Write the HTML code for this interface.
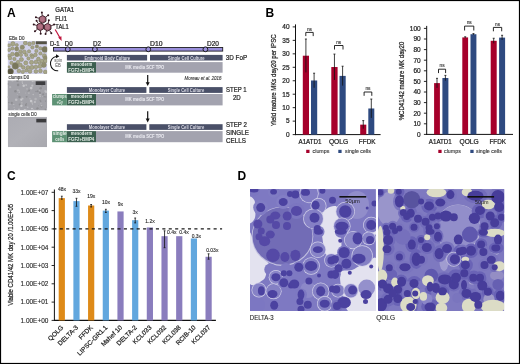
<!DOCTYPE html>
<html><head><meta charset="utf-8"><style>
html,body{margin:0;padding:0;background:#fff;}
#w{position:relative;width:520px;height:364px;overflow:hidden;background:#fff;}
svg{display:block;will-change:transform;}
svg text{font-family:"Liberation Sans", sans-serif;}
svg text.k{stroke:#222;stroke-width:0.22px;}
svg text.k2{stroke:#333;stroke-width:0.12px;}
</style></head><body><div id="w">
<svg width="520" height="364" viewBox="0 0 520 364">
<rect x="0" y="0" width="520" height="364" fill="#fff"/>
<text x="6.9" y="17.1" font-size="12" fill="#000" font-weight="bold">A</text>
<line x1="36.64" y1="25.47" x2="33.72" y2="24.41" stroke="#3a1a24" stroke-width="0.9"/>
<circle cx="33.72" cy="24.41" r="1.0" fill="#2e141c"/>
<line x1="37.31" y1="29.31" x2="34.94" y2="31.30" stroke="#3a1a24" stroke-width="0.9"/>
<circle cx="34.94" cy="31.30" r="1.0" fill="#2e141c"/>
<line x1="40.50" y1="30.69" x2="40.67" y2="33.79" stroke="#3a1a24" stroke-width="0.9"/>
<circle cx="40.67" cy="33.79" r="1.0" fill="#2e141c"/>
<line x1="38.23" y1="23.49" x2="36.59" y2="20.86" stroke="#3a1a24" stroke-width="0.9"/>
<circle cx="36.59" cy="20.86" r="1.0" fill="#2e141c"/>
<polygon points="43.68,28.75 40.30,30.70 36.92,28.75 36.92,24.85 40.30,22.90 43.68,24.85" fill="#a05e72" stroke="#2e141c" stroke-width="0.9"/>
<circle cx="40.00" cy="26.50" r="2.34" fill="#b07284"/>
<line x1="51.22" y1="25.74" x2="54.09" y2="24.58" stroke="#3a1a24" stroke-width="0.9"/>
<circle cx="54.09" cy="24.58" r="1.0" fill="#2e141c"/>
<line x1="49.67" y1="30.51" x2="51.31" y2="33.14" stroke="#3a1a24" stroke-width="0.9"/>
<circle cx="51.31" cy="33.14" r="1.0" fill="#2e141c"/>
<line x1="46.46" y1="30.93" x2="45.55" y2="33.89" stroke="#3a1a24" stroke-width="0.9"/>
<circle cx="45.55" cy="33.89" r="1.0" fill="#2e141c"/>
<line x1="48.28" y1="23.36" x2="48.82" y2="20.31" stroke="#3a1a24" stroke-width="0.9"/>
<circle cx="48.82" cy="20.31" r="1.0" fill="#2e141c"/>
<polygon points="50.98,29.15 47.60,31.10 44.22,29.15 44.22,25.25 47.60,23.30 50.98,25.25" fill="#a05e72" stroke="#2e141c" stroke-width="0.9"/>
<circle cx="47.30" cy="26.90" r="2.34" fill="#b07284"/>
<line x1="42.19" y1="15.52" x2="41.87" y2="12.44" stroke="#3a1a24" stroke-width="0.9"/>
<circle cx="41.87" cy="12.44" r="1.0" fill="#2e141c"/>
<line x1="38.87" y1="18.26" x2="35.91" y2="17.35" stroke="#3a1a24" stroke-width="0.9"/>
<circle cx="35.91" cy="17.35" r="1.0" fill="#2e141c"/>
<line x1="45.71" y1="17.05" x2="48.19" y2="15.19" stroke="#3a1a24" stroke-width="0.9"/>
<circle cx="48.19" cy="15.19" r="1.0" fill="#2e141c"/>
<polygon points="45.98,21.35 42.60,23.30 39.22,21.35 39.22,17.45 42.60,15.50 45.98,17.45" fill="#a05e72" stroke="#2e141c" stroke-width="0.9"/>
<circle cx="42.30" cy="19.10" r="2.34" fill="#b07284"/>
<text class="k" x="55.3" y="12.4" font-size="6.8" fill="#222" textLength="18.7" lengthAdjust="spacingAndGlyphs">GATA1</text>
<text class="k" x="55.3" y="20.5" font-size="6.8" fill="#222" textLength="11.6" lengthAdjust="spacingAndGlyphs">FLI1</text>
<text class="k" x="55.3" y="28.5" font-size="6.8" fill="#222" textLength="13.4" lengthAdjust="spacingAndGlyphs">TAL1</text>
<line x1="55.20" y1="29.50" x2="60.20" y2="38.30" stroke="#c0143c" stroke-width="1.2"/>
<polygon points="61.6,41 58.2,37.6 61.4,36.2" fill="#c0143c"/>
<defs><clipPath id="t1"><rect x="7.6" y="40.9" width="39.7" height="33.1"/></clipPath><clipPath id="t2"><rect x="7.5" y="80.2" width="39.7" height="30.3"/></clipPath><clipPath id="t3"><rect x="7.8" y="116.8" width="39.2" height="30.4"/></clipPath><filter id="tb" x="0" y="0" width="1" height="1"><feGaussianBlur stdDeviation="0.45"/></filter></defs>
<g clip-path="url(#t1)"><g filter="url(#tb)">
<rect x="7.6" y="40.9" width="39.7" height="33.1" fill="#d2d2ea"/>
<circle cx="12.9" cy="43.7" r="2.20" fill="#a6a588" stroke="#868466" stroke-width="0.5"/>
<circle cx="16.9" cy="45" r="1.50" fill="#a6a588" stroke="#868466" stroke-width="0.5"/>
<circle cx="9" cy="45.4" r="1.70" fill="#a6a588" stroke="#868466" stroke-width="0.5"/>
<circle cx="22.3" cy="47.2" r="2.20" fill="#908e70" stroke="#868466" stroke-width="0.5"/>
<circle cx="25.3" cy="43" r="2.00" fill="#a6a588" stroke="#868466" stroke-width="0.5"/>
<circle cx="12.4" cy="48.4" r="1.70" fill="#a6a588" stroke="#868466" stroke-width="0.5"/>
<circle cx="16.7" cy="48.9" r="2.10" fill="#908e70" stroke="#868466" stroke-width="0.5"/>
<circle cx="9" cy="49.9" r="1.70" fill="#a6a588" stroke="#868466" stroke-width="0.5"/>
<circle cx="20.4" cy="51.4" r="1.70" fill="#a6a588" stroke="#868466" stroke-width="0.5"/>
<circle cx="24.3" cy="51.9" r="2.00" fill="#a6a588" stroke="#868466" stroke-width="0.5"/>
<circle cx="12.4" cy="54.1" r="1.90" fill="#a6a588" stroke="#868466" stroke-width="0.5"/>
<circle cx="16.9" cy="54.4" r="2.30" fill="#908e70" stroke="#868466" stroke-width="0.5"/>
<circle cx="9" cy="55.8" r="1.70" fill="#a6a588" stroke="#868466" stroke-width="0.5"/>
<circle cx="20.9" cy="54.9" r="1.70" fill="#a6a588" stroke="#868466" stroke-width="0.5"/>
<circle cx="26.3" cy="54.9" r="1.70" fill="#a6a588" stroke="#868466" stroke-width="0.5"/>
<circle cx="29.5" cy="44" r="1.90" fill="#a6a588" stroke="#868466" stroke-width="0.5"/>
<circle cx="33.4" cy="43" r="1.70" fill="#a6a588" stroke="#868466" stroke-width="0.5"/>
<circle cx="29" cy="51.4" r="1.70" fill="#a6a588" stroke="#868466" stroke-width="0.5"/>
<circle cx="32.4" cy="47.4" r="1.70" fill="#a6a588" stroke="#868466" stroke-width="0.5"/>
<circle cx="36.9" cy="46.4" r="1.70" fill="#908e70" stroke="#868466" stroke-width="0.5"/>
<circle cx="40.4" cy="48.4" r="1.70" fill="#a6a588" stroke="#868466" stroke-width="0.5"/>
<circle cx="44.8" cy="49.4" r="2.90" fill="#79775c" stroke="#868466" stroke-width="0.5"/>
<circle cx="36.4" cy="50.9" r="1.70" fill="#a6a588" stroke="#868466" stroke-width="0.5"/>
<circle cx="40.4" cy="53.4" r="1.70" fill="#a6a588" stroke="#868466" stroke-width="0.5"/>
<circle cx="35.4" cy="54.9" r="1.90" fill="#a6a588" stroke="#868466" stroke-width="0.5"/>
<circle cx="31.5" cy="55.3" r="1.70" fill="#a6a588" stroke="#868466" stroke-width="0.5"/>
<circle cx="44.3" cy="55.8" r="2.10" fill="#a6a588" stroke="#868466" stroke-width="0.5"/>
<circle cx="15.4" cy="65.9" r="3.30" fill="#79775c" stroke="#868466" stroke-width="0.5"/>
<circle cx="10.5" cy="71.4" r="3.00" fill="#5a5742" stroke="#868466" stroke-width="0.5"/>
<circle cx="10" cy="58" r="1.90" fill="#a6a588" stroke="#868466" stroke-width="0.5"/>
<circle cx="14.4" cy="59" r="1.70" fill="#a6a588" stroke="#868466" stroke-width="0.5"/>
<circle cx="21.4" cy="59.5" r="2.10" fill="#a6a588" stroke="#868466" stroke-width="0.5"/>
<circle cx="11.5" cy="62.9" r="1.70" fill="#a6a588" stroke="#868466" stroke-width="0.5"/>
<circle cx="17.9" cy="62" r="1.70" fill="#a6a588" stroke="#868466" stroke-width="0.5"/>
<circle cx="20.4" cy="64.9" r="1.90" fill="#a6a588" stroke="#868466" stroke-width="0.5"/>
<circle cx="25.8" cy="62.9" r="2.10" fill="#a6a588" stroke="#868466" stroke-width="0.5"/>
<circle cx="23.3" cy="67.4" r="1.90" fill="#a6a588" stroke="#868466" stroke-width="0.5"/>
<circle cx="18.9" cy="70.9" r="1.90" fill="#a6a588" stroke="#868466" stroke-width="0.5"/>
<circle cx="22.8" cy="71.9" r="1.70" fill="#a6a588" stroke="#868466" stroke-width="0.5"/>
<circle cx="26.3" cy="70.4" r="1.70" fill="#a6a588" stroke="#868466" stroke-width="0.5"/>
<circle cx="9" cy="66.9" r="1.20" fill="#a6a588" stroke="#868466" stroke-width="0.5"/>
<circle cx="28.5" cy="58.5" r="1.70" fill="#a6a588" stroke="#868466" stroke-width="0.5"/>
<circle cx="32.4" cy="57" r="1.70" fill="#a6a588" stroke="#868466" stroke-width="0.5"/>
<circle cx="38.4" cy="59" r="1.90" fill="#a6a588" stroke="#868466" stroke-width="0.5"/>
<circle cx="45.3" cy="58" r="2.10" fill="#908e70" stroke="#868466" stroke-width="0.5"/>
<circle cx="31.5" cy="62.4" r="2.10" fill="#a6a588" stroke="#868466" stroke-width="0.5"/>
<circle cx="35.9" cy="62" r="1.90" fill="#a6a588" stroke="#868466" stroke-width="0.5"/>
<circle cx="41.9" cy="61" r="1.90" fill="#a6a588" stroke="#868466" stroke-width="0.5"/>
<circle cx="45.3" cy="61" r="1.90" fill="#a6a588" stroke="#868466" stroke-width="0.5"/>
<circle cx="43.8" cy="64.9" r="2.50" fill="#908e70" stroke="#868466" stroke-width="0.5"/>
<circle cx="28" cy="67.4" r="1.90" fill="#a6a588" stroke="#868466" stroke-width="0.5"/>
<circle cx="32" cy="67.4" r="2.10" fill="#a6a588" stroke="#868466" stroke-width="0.5"/>
<circle cx="35.9" cy="66.9" r="1.90" fill="#a6a588" stroke="#868466" stroke-width="0.5"/>
<circle cx="39.9" cy="66.4" r="1.90" fill="#a6a588" stroke="#868466" stroke-width="0.5"/>
<circle cx="30" cy="71.4" r="1.90" fill="#a6a588" stroke="#868466" stroke-width="0.5"/>
<circle cx="35.9" cy="71.4" r="1.90" fill="#a6a588" stroke="#868466" stroke-width="0.5"/>
<circle cx="40.4" cy="70.9" r="1.90" fill="#a6a588" stroke="#868466" stroke-width="0.5"/>
<circle cx="45.3" cy="71.9" r="1.90" fill="#a6a588" stroke="#868466" stroke-width="0.5"/>
<circle cx="39.4" cy="63" r="1.50" fill="#a6a588" stroke="#868466" stroke-width="0.5"/>
<rect x="35.9" y="41.3" width="10.9" height="2.9" fill="#545244"/>
</g></g>
<g clip-path="url(#t2)"><g filter="url(#tb)">
<rect x="7.5" y="80.2" width="39.7" height="30.3" fill="#a2a2a8"/>
<circle cx="32.2" cy="102.7" r="1.1" fill="#b4b4b8"/>
<circle cx="40.9" cy="103.7" r="0.6" fill="#b4b4b8"/>
<circle cx="43.3" cy="83.6" r="0.8" fill="#bebec2"/>
<circle cx="22.6" cy="83.3" r="0.6" fill="#bebec2"/>
<circle cx="23.7" cy="85.7" r="1.2" fill="#c8c8cc"/>
<circle cx="13.8" cy="104.4" r="0.5" fill="#c8c8cc"/>
<circle cx="12.5" cy="80.3" r="1.2" fill="#bebec2"/>
<circle cx="38.2" cy="109.3" r="0.5" fill="#bebec2"/>
<circle cx="19.0" cy="109.3" r="0.9" fill="#bebec2"/>
<circle cx="14.7" cy="109.5" r="0.6" fill="#c8c8cc"/>
<circle cx="19.4" cy="91.1" r="0.5" fill="#bebec2"/>
<circle cx="18.0" cy="90.3" r="1.1" fill="#b4b4b8"/>
<circle cx="31.2" cy="101.6" r="0.5" fill="#8e8e92"/>
<circle cx="40.0" cy="94.8" r="0.7" fill="#c8c8cc"/>
<circle cx="26.3" cy="85.5" r="0.6" fill="#b4b4b8"/>
<circle cx="45.2" cy="91.0" r="0.8" fill="#c8c8cc"/>
<circle cx="22.0" cy="97.7" r="0.4" fill="#b4b4b8"/>
<circle cx="35.6" cy="99.1" r="1.3" fill="#b4b4b8"/>
<circle cx="37.5" cy="108.4" r="1.2" fill="#8e8e92"/>
<circle cx="27.8" cy="107.2" r="0.6" fill="#c8c8cc"/>
<circle cx="11.8" cy="102.9" r="1.1" fill="#8e8e92"/>
<circle cx="9.0" cy="108.9" r="0.5" fill="#8e8e92"/>
<circle cx="27.9" cy="91.2" r="0.5" fill="#8e8e92"/>
<circle cx="44.2" cy="96.7" r="0.7" fill="#8e8e92"/>
<circle cx="19.7" cy="104.4" r="1.0" fill="#8e8e92"/>
<circle cx="47.1" cy="85.1" r="0.4" fill="#c8c8cc"/>
<circle cx="8.8" cy="102.6" r="0.7" fill="#8e8e92"/>
<circle cx="25.6" cy="93.0" r="0.5" fill="#b4b4b8"/>
<circle cx="39.3" cy="90.3" r="0.6" fill="#bebec2"/>
<circle cx="32.5" cy="104.1" r="0.5" fill="#c8c8cc"/>
<circle cx="22.3" cy="82.0" r="0.8" fill="#bebec2"/>
<circle cx="25.5" cy="110.5" r="1.2" fill="#c8c8cc"/>
<circle cx="45.6" cy="101.1" r="0.7" fill="#8e8e92"/>
<circle cx="19.1" cy="92.4" r="0.5" fill="#c8c8cc"/>
<circle cx="40.1" cy="96.3" r="0.6" fill="#c8c8cc"/>
<circle cx="42.0" cy="85.7" r="0.8" fill="#8e8e92"/>
<circle cx="10.0" cy="104.3" r="0.7" fill="#b4b4b8"/>
<circle cx="37.7" cy="91.2" r="1.0" fill="#8e8e92"/>
<circle cx="40.7" cy="88.2" r="1.3" fill="#8e8e92"/>
<circle cx="45.5" cy="90.5" r="0.6" fill="#b4b4b8"/>
<circle cx="26.3" cy="103.6" r="0.7" fill="#8e8e92"/>
<circle cx="25.9" cy="104.9" r="1.0" fill="#8e8e92"/>
<circle cx="21.3" cy="99.7" r="1.1" fill="#c8c8cc"/>
<circle cx="21.4" cy="105.7" r="1.2" fill="#c8c8cc"/>
<circle cx="46.3" cy="109.2" r="0.9" fill="#bebec2"/>
<circle cx="15.4" cy="91.2" r="1.2" fill="#8e8e92"/>
<circle cx="34.9" cy="102.0" r="1.1" fill="#bebec2"/>
<circle cx="32.0" cy="108.6" r="0.9" fill="#c8c8cc"/>
<circle cx="19.5" cy="97.0" r="1.2" fill="#8e8e92"/>
<circle cx="36.1" cy="81.0" r="0.5" fill="#c8c8cc"/>
<circle cx="32.3" cy="85.7" r="1.1" fill="#bebec2"/>
<circle cx="32.5" cy="81.5" r="0.8" fill="#bebec2"/>
<circle cx="14.1" cy="107.2" r="0.5" fill="#bebec2"/>
<circle cx="26.7" cy="96.8" r="0.8" fill="#8e8e92"/>
<circle cx="22.6" cy="98.7" r="0.9" fill="#bebec2"/>
<circle cx="36.0" cy="91.5" r="0.7" fill="#8e8e92"/>
<circle cx="41.5" cy="106.5" r="1.0" fill="#8e8e92"/>
<circle cx="45.8" cy="96.9" r="0.7" fill="#8e8e92"/>
<circle cx="29.1" cy="90.5" r="0.9" fill="#8e8e92"/>
<circle cx="40.0" cy="92.9" r="1.1" fill="#8e8e92"/>
<circle cx="26.1" cy="85.0" r="0.7" fill="#c8c8cc"/>
<circle cx="45.5" cy="109.5" r="0.9" fill="#8e8e92"/>
<circle cx="40.1" cy="100.2" r="0.7" fill="#8e8e92"/>
<circle cx="30.0" cy="98.8" r="0.5" fill="#c8c8cc"/>
<circle cx="24.5" cy="109.8" r="0.8" fill="#c8c8cc"/>
<circle cx="46.1" cy="91.7" r="1.3" fill="#bebec2"/>
<circle cx="31.2" cy="88.1" r="1.3" fill="#c8c8cc"/>
<circle cx="17.5" cy="80.8" r="1.3" fill="#8e8e92"/>
<circle cx="27.0" cy="88.9" r="0.8" fill="#b4b4b8"/>
<circle cx="33.7" cy="109.3" r="0.6" fill="#b4b4b8"/>
<circle cx="38.5" cy="105.3" r="0.4" fill="#8e8e92"/>
<circle cx="17.2" cy="94.6" r="0.4" fill="#c8c8cc"/>
<circle cx="18.1" cy="84.9" r="1.3" fill="#8e8e92"/>
<circle cx="27.0" cy="110.3" r="0.9" fill="#b4b4b8"/>
<circle cx="8.1" cy="84.0" r="0.7" fill="#8e8e92"/>
<circle cx="31.9" cy="102.4" r="0.4" fill="#8e8e92"/>
<circle cx="21.8" cy="102.8" r="0.9" fill="#b4b4b8"/>
<circle cx="7.6" cy="97.0" r="1.0" fill="#b4b4b8"/>
<circle cx="42.8" cy="96.7" r="0.4" fill="#c8c8cc"/>
<circle cx="31.1" cy="101.1" r="1.3" fill="#c8c8cc"/>
<circle cx="41.6" cy="105.7" r="0.8" fill="#bebec2"/>
<circle cx="43.2" cy="94.3" r="1.1" fill="#8e8e92"/>
<circle cx="40.7" cy="101.2" r="0.8" fill="#8e8e92"/>
<circle cx="33.2" cy="94.5" r="0.7" fill="#bebec2"/>
<circle cx="26.5" cy="96.8" r="0.8" fill="#8e8e92"/>
<circle cx="28.9" cy="93.1" r="0.9" fill="#b4b4b8"/>
<circle cx="10.2" cy="87.2" r="1.1" fill="#b4b4b8"/>
<circle cx="33.8" cy="81.0" r="1.1" fill="#b4b4b8"/>
<circle cx="47.1" cy="101.4" r="0.4" fill="#b4b4b8"/>
<circle cx="16.2" cy="99.8" r="1.3" fill="#bebec2"/>
<rect x="35.7" y="81.3" width="9.6" height="3.7" fill="#3e3e40"/>
</g></g>
<g clip-path="url(#t3)"><g filter="url(#tb)">
<defs><linearGradient id="sg" x1="0" y1="0" x2="1" y2="1"><stop offset="0" stop-color="#acacb3"/><stop offset="0.5" stop-color="#b1b1b7"/><stop offset="1" stop-color="#a8a8ae"/></linearGradient></defs>
<rect x="7.8" y="116.8" width="39.2" height="30.4" fill="url(#sg)"/>
<rect x="36.3" y="118.8" width="9.9" height="3.6" fill="#3a3a3c"/>
</g></g>
<text class="k2" x="9" y="40.1" font-size="4.6" fill="#333" textLength="15.5" lengthAdjust="spacingAndGlyphs">EBs  D0</text>
<text class="k2" x="8.6" y="79.1" font-size="4.6" fill="#333" textLength="20.5" lengthAdjust="spacingAndGlyphs">clumps  D0</text>
<text class="k2" x="8.6" y="116.4" font-size="4.6" fill="#333" textLength="28" lengthAdjust="spacingAndGlyphs">single cells  D0</text>
<rect x="53.5" y="47.5" width="169.2" height="3.6" fill="#9a8fdc" stroke="#1e1e22" stroke-width="0.9"/>
<circle cx="67.8" cy="49.3" r="2.4" fill="#9a8fdc" stroke="#1a1a1e" stroke-width="1"/>
<circle cx="94.9" cy="49.3" r="2.4" fill="#9a8fdc" stroke="#1a1a1e" stroke-width="1"/>
<circle cx="148.3" cy="49.3" r="2.4" fill="#9a8fdc" stroke="#1a1a1e" stroke-width="1"/>
<circle cx="205.4" cy="49.3" r="2.4" fill="#9a8fdc" stroke="#1a1a1e" stroke-width="1"/>
<text class="k" x="50.0" y="45.6" font-size="6.5" fill="#222" textLength="9.4" lengthAdjust="spacingAndGlyphs">D-1</text>
<text class="k" x="64.8" y="45.6" font-size="6.5" fill="#222" textLength="7.9" lengthAdjust="spacingAndGlyphs">D0</text>
<text class="k" x="92.9" y="45.6" font-size="6.5" fill="#222" textLength="8" lengthAdjust="spacingAndGlyphs">D2</text>
<text class="k" x="150" y="45.6" font-size="6.5" fill="#222" textLength="12.5" lengthAdjust="spacingAndGlyphs">D10</text>
<text class="k" x="207" y="45.6" font-size="6.5" fill="#222" textLength="12" lengthAdjust="spacingAndGlyphs">D20</text>
<rect x="66.90" y="54.90" width="80.20" height="5.60" fill="#4a5068"/>
<rect x="150.00" y="54.90" width="72.60" height="5.60" fill="#4a5068"/>
<text x="107.3" y="59.5" font-size="4.5" fill="#dcdce6" text-anchor="middle" font-weight="bold" textLength="45.6" lengthAdjust="spacingAndGlyphs">Embryoid Body Culture</text>
<text x="186.3" y="59.5" font-size="4.5" fill="#dcdce6" text-anchor="middle" font-weight="bold" textLength="36.5" lengthAdjust="spacingAndGlyphs">Single Cell Culture</text>
<rect x="66.90" y="62.10" width="29.10" height="10.60" fill="#3b5f4f"/>
<rect x="96.00" y="62.10" width="126.60" height="10.60" fill="#a3a3af"/>
<text x="81.5" y="66.4" font-size="4.6" fill="#e4ece6" text-anchor="middle" font-weight="bold" textLength="21.3" lengthAdjust="spacingAndGlyphs">mesoderm</text>
<text x="81.3" y="71.9" font-size="4.8" fill="#e4ece6" text-anchor="middle" font-weight="bold" textLength="25.9" lengthAdjust="spacingAndGlyphs">FGF2+BMP4</text>
<text x="144.8" y="69.10000000000001" font-size="4.8" fill="#ececf2" text-anchor="middle" font-weight="bold" textLength="39.2" lengthAdjust="spacingAndGlyphs">MK media SCF TPO</text>
<rect x="66.90" y="87.10" width="79.50" height="5.80" fill="#4a5068"/>
<rect x="149.30" y="87.10" width="73.30" height="5.80" fill="#4a5068"/>
<text x="106.95" y="91.69999999999999" font-size="4.5" fill="#dcdce6" text-anchor="middle" font-weight="bold" textLength="36.2" lengthAdjust="spacingAndGlyphs">Monolayer Culture</text>
<text x="185.95" y="91.69999999999999" font-size="4.5" fill="#dcdce6" text-anchor="middle" font-weight="bold" textLength="36.5" lengthAdjust="spacingAndGlyphs">Single Cell Culture</text>
<rect x="66.90" y="94.00" width="29.10" height="11.40" fill="#3b5f4f"/>
<rect x="96.00" y="94.00" width="126.60" height="11.40" fill="#a3a3af"/>
<text x="81.5" y="98.3" font-size="4.6" fill="#e4ece6" text-anchor="middle" font-weight="bold" textLength="21.3" lengthAdjust="spacingAndGlyphs">mesoderm</text>
<text x="81.3" y="103.8" font-size="4.8" fill="#e4ece6" text-anchor="middle" font-weight="bold" textLength="25.9" lengthAdjust="spacingAndGlyphs">FGF2+BMP4</text>
<text x="144.8" y="101.4" font-size="4.8" fill="#ececf2" text-anchor="middle" font-weight="bold" textLength="39.2" lengthAdjust="spacingAndGlyphs">MK media SCF TPO</text>
<rect x="52.10" y="94.00" width="14.80" height="11.40" fill="#5e9275"/>
<text x="59.8" y="98.3" font-size="4.6" fill="#e4ece6" text-anchor="middle" font-weight="bold" textLength="13.9" lengthAdjust="spacingAndGlyphs">clumps</text>
<text x="59.8" y="103.8" font-size="4.6" fill="#e4ece6" text-anchor="middle" font-weight="bold" textLength="6.1" lengthAdjust="spacingAndGlyphs">+Gy</text>
<rect x="66.90" y="124.20" width="79.50" height="5.70" fill="#4a5068"/>
<rect x="149.30" y="124.20" width="73.30" height="5.70" fill="#4a5068"/>
<text x="106.95" y="128.8" font-size="4.5" fill="#dcdce6" text-anchor="middle" font-weight="bold" textLength="36.2" lengthAdjust="spacingAndGlyphs">Monolayer Culture</text>
<text x="185.95" y="128.8" font-size="4.5" fill="#dcdce6" text-anchor="middle" font-weight="bold" textLength="36.5" lengthAdjust="spacingAndGlyphs">Single Cell Culture</text>
<rect x="66.90" y="131.10" width="29.10" height="11.10" fill="#3b5f4f"/>
<rect x="96.00" y="131.10" width="126.60" height="11.10" fill="#a3a3af"/>
<text x="81.5" y="135.4" font-size="4.6" fill="#e4ece6" text-anchor="middle" font-weight="bold" textLength="21.3" lengthAdjust="spacingAndGlyphs">mesoderm</text>
<text x="81.3" y="140.9" font-size="4.8" fill="#e4ece6" text-anchor="middle" font-weight="bold" textLength="25.9" lengthAdjust="spacingAndGlyphs">FGF2+BMP4</text>
<text x="144.8" y="138.34999999999997" font-size="4.8" fill="#ececf2" text-anchor="middle" font-weight="bold" textLength="39.2" lengthAdjust="spacingAndGlyphs">MK media SCF TPO</text>
<rect x="52.10" y="131.10" width="14.80" height="11.10" fill="#5e9275"/>
<text x="59.8" y="135.4" font-size="4.6" fill="#e4ece6" text-anchor="middle" font-weight="bold" textLength="13.9" lengthAdjust="spacingAndGlyphs">single</text>
<text x="59.8" y="140.9" font-size="4.6" fill="#e4ece6" text-anchor="middle" font-weight="bold" textLength="9" lengthAdjust="spacingAndGlyphs">cells</text>
<text class="k" x="225.8" y="60.2" font-size="7" fill="#222" textLength="21.3" lengthAdjust="spacingAndGlyphs">3D FoP</text>
<text class="k" x="236.3" y="92" font-size="7" fill="#222" text-anchor="middle" textLength="20.5" lengthAdjust="spacingAndGlyphs">STEP 1</text>
<text class="k" x="236.8" y="99.9" font-size="7" fill="#222" text-anchor="middle" textLength="7.8" lengthAdjust="spacingAndGlyphs">2D</text>
<text class="k" x="226" y="127.4" font-size="7" fill="#222" textLength="20.9" lengthAdjust="spacingAndGlyphs">STEP 2</text>
<text class="k" x="226" y="134.7" font-size="7" fill="#222" textLength="22.8" lengthAdjust="spacingAndGlyphs">SINGLE</text>
<text class="k" x="226" y="142.8" font-size="7" fill="#222" textLength="20" lengthAdjust="spacingAndGlyphs">CELLS</text>
<text class="k2" x="221.4" y="79.6" font-size="5.2" fill="#333" text-anchor="end" font-style="italic" textLength="36.8" lengthAdjust="spacingAndGlyphs">Moreau et al. 2016</text>
<path d="M58.2,70.7 A6.6,7.1 0 0 1 56.2,56.4" fill="none" stroke="#111" stroke-width="1.05"/>
<polygon points="59.4,56.3 56.0,54.3 56.0,58.3" fill="#111"/>
<text x="58.15" y="61.7" font-size="4.7" fill="#4a4a4a" text-anchor="middle" textLength="7.7" lengthAdjust="spacingAndGlyphs">spin</text>
<text x="58.1" y="66.5" font-size="4.7" fill="#4a4a4a" text-anchor="middle" textLength="5.6" lengthAdjust="spacingAndGlyphs">EB</text>
<line x1="147.70" y1="75.00" x2="147.70" y2="83.10" stroke="#111" stroke-width="1.2"/>
<polygon points="145.7,82.3 149.7,82.3 147.7,86.1" fill="#111"/>
<line x1="147.70" y1="111.20" x2="147.70" y2="119.40" stroke="#111" stroke-width="1.2"/>
<polygon points="145.7,118.60000000000001 149.7,118.60000000000001 147.7,122.4" fill="#111"/>
<text x="265.4" y="17.2" font-size="12" fill="#000" font-weight="bold">B</text>
<line x1="295.50" y1="24.40" x2="295.50" y2="135.10" stroke="#111" stroke-width="1"/>
<line x1="295.00" y1="134.60" x2="380.60" y2="134.60" stroke="#111" stroke-width="1"/>
<line x1="292.70" y1="134.60" x2="295.50" y2="134.60" stroke="#111" stroke-width="0.9"/>
<text class="k" x="289.5" y="136.9" font-size="6.5" fill="#222" text-anchor="end">0</text>
<line x1="292.70" y1="121.14" x2="295.50" y2="121.14" stroke="#111" stroke-width="0.9"/>
<text class="k" x="289.5" y="123.43749999999999" font-size="6.5" fill="#222" text-anchor="end">5</text>
<line x1="292.70" y1="107.67" x2="295.50" y2="107.67" stroke="#111" stroke-width="0.9"/>
<text class="k" x="289.5" y="109.975" font-size="6.5" fill="#222" text-anchor="end">10</text>
<line x1="292.70" y1="94.21" x2="295.50" y2="94.21" stroke="#111" stroke-width="0.9"/>
<text class="k" x="289.5" y="96.5125" font-size="6.5" fill="#222" text-anchor="end">15</text>
<line x1="292.70" y1="80.75" x2="295.50" y2="80.75" stroke="#111" stroke-width="0.9"/>
<text class="k" x="289.5" y="83.05" font-size="6.5" fill="#222" text-anchor="end">20</text>
<line x1="292.70" y1="67.29" x2="295.50" y2="67.29" stroke="#111" stroke-width="0.9"/>
<text class="k" x="289.5" y="69.58749999999999" font-size="6.5" fill="#222" text-anchor="end">25</text>
<line x1="292.70" y1="53.83" x2="295.50" y2="53.83" stroke="#111" stroke-width="0.9"/>
<text class="k" x="289.5" y="56.125" font-size="6.5" fill="#222" text-anchor="end">30</text>
<line x1="292.70" y1="40.36" x2="295.50" y2="40.36" stroke="#111" stroke-width="0.9"/>
<text class="k" x="289.5" y="42.662499999999994" font-size="6.5" fill="#222" text-anchor="end">35</text>
<line x1="292.70" y1="26.90" x2="295.50" y2="26.90" stroke="#111" stroke-width="0.9"/>
<text class="k" x="289.5" y="29.200000000000006" font-size="6.5" fill="#222" text-anchor="end">40</text>
<rect x="302.80" y="55.71" width="6.20" height="78.89" fill="#a6002b"/>
<line x1="305.90" y1="39.02" x2="305.90" y2="72.40" stroke="#111" stroke-width="0.8"/>
<line x1="304.90" y1="39.02" x2="306.90" y2="39.02" stroke="#111" stroke-width="0.8"/>
<rect x="311.00" y="80.48" width="6.20" height="54.12" fill="#2e4a80"/>
<line x1="314.10" y1="73.21" x2="314.10" y2="87.75" stroke="#111" stroke-width="0.8"/>
<line x1="313.10" y1="73.21" x2="315.10" y2="73.21" stroke="#111" stroke-width="0.8"/>
<rect x="331.30" y="67.02" width="6.30" height="67.58" fill="#a6002b"/>
<line x1="334.45" y1="54.09" x2="334.45" y2="79.94" stroke="#111" stroke-width="0.8"/>
<line x1="333.45" y1="54.09" x2="335.45" y2="54.09" stroke="#111" stroke-width="0.8"/>
<rect x="339.50" y="75.90" width="6.20" height="58.70" fill="#2e4a80"/>
<line x1="342.60" y1="66.21" x2="342.60" y2="85.60" stroke="#111" stroke-width="0.8"/>
<line x1="341.60" y1="66.21" x2="343.60" y2="66.21" stroke="#111" stroke-width="0.8"/>
<rect x="360.20" y="124.64" width="6.10" height="9.96" fill="#a6002b"/>
<line x1="363.25" y1="120.60" x2="363.25" y2="128.68" stroke="#111" stroke-width="0.8"/>
<line x1="362.25" y1="120.60" x2="364.25" y2="120.60" stroke="#111" stroke-width="0.8"/>
<rect x="368.30" y="108.48" width="6.00" height="26.12" fill="#2e4a80"/>
<line x1="371.30" y1="99.06" x2="371.30" y2="117.91" stroke="#111" stroke-width="0.8"/>
<line x1="370.30" y1="99.06" x2="372.30" y2="99.06" stroke="#111" stroke-width="0.8"/>
<path d="M305.8,36.1 L305.8,32.4 L313.2,32.4 L313.2,36.1" fill="none" stroke="#111" stroke-width="0.9"/>
<text class="k2" x="309.5" y="30.5" font-size="4.8" fill="#333" text-anchor="middle">ns</text>
<path d="M334.5,49.5 L334.5,45.5 L343.0,45.5 L343.0,49.5" fill="none" stroke="#111" stroke-width="0.9"/>
<text class="k2" x="338.75" y="43.6" font-size="4.8" fill="#333" text-anchor="middle">ns</text>
<path d="M364.1,95.8 L364.1,92 L371.8,92 L371.8,95.8" fill="none" stroke="#111" stroke-width="0.9"/>
<text class="k2" x="367.95000000000005" y="90.1" font-size="4.8" fill="#333" text-anchor="middle">ns</text>
<text class="k" x="310" y="143.9" font-size="6.6" fill="#222" text-anchor="middle" textLength="22.9" lengthAdjust="spacingAndGlyphs">A1ATD1</text>
<text class="k" x="338.5" y="143.9" font-size="6.6" fill="#222" text-anchor="middle" textLength="19.2" lengthAdjust="spacingAndGlyphs">QOLG</text>
<text class="k" x="367.2" y="143.9" font-size="6.6" fill="#222" text-anchor="middle" textLength="16.7" lengthAdjust="spacingAndGlyphs">FFDK</text>
<text class="k" transform="translate(275.5,80.35) rotate(-90)" font-size="6.3" text-anchor="middle" fill="#222" textLength="91.8" lengthAdjust="spacingAndGlyphs">Yield mature MKs day20 per iPSC</text>
<rect x="306.20" y="149.80" width="3.30" height="3.20" fill="#a6002b"/>
<text class="k2" x="312.6" y="153.3" font-size="5.2" fill="#3a3a3a" textLength="16.8" lengthAdjust="spacingAndGlyphs">clumps</text>
<rect x="338.30" y="149.80" width="3.30" height="3.20" fill="#2e4a80"/>
<text class="k2" x="345.1" y="153.3" font-size="5.2" fill="#3a3a3a" textLength="25.8" lengthAdjust="spacingAndGlyphs">single cells</text>
<line x1="426.70" y1="25.90" x2="426.70" y2="134.90" stroke="#111" stroke-width="1"/>
<line x1="426.20" y1="134.40" x2="513.00" y2="134.40" stroke="#111" stroke-width="1"/>
<line x1="423.90" y1="134.40" x2="426.70" y2="134.40" stroke="#111" stroke-width="0.9"/>
<text class="k" x="420.7" y="136.70000000000002" font-size="6.5" fill="#222" text-anchor="end">0</text>
<line x1="423.90" y1="123.80" x2="426.70" y2="123.80" stroke="#111" stroke-width="0.9"/>
<text class="k" x="420.7" y="126.10000000000001" font-size="6.5" fill="#222" text-anchor="end">10</text>
<line x1="423.90" y1="113.20" x2="426.70" y2="113.20" stroke="#111" stroke-width="0.9"/>
<text class="k" x="420.7" y="115.5" font-size="6.5" fill="#222" text-anchor="end">20</text>
<line x1="423.90" y1="102.60" x2="426.70" y2="102.60" stroke="#111" stroke-width="0.9"/>
<text class="k" x="420.7" y="104.9" font-size="6.5" fill="#222" text-anchor="end">30</text>
<line x1="423.90" y1="92.00" x2="426.70" y2="92.00" stroke="#111" stroke-width="0.9"/>
<text class="k" x="420.7" y="94.3" font-size="6.5" fill="#222" text-anchor="end">40</text>
<line x1="423.90" y1="81.40" x2="426.70" y2="81.40" stroke="#111" stroke-width="0.9"/>
<text class="k" x="420.7" y="83.7" font-size="6.5" fill="#222" text-anchor="end">50</text>
<line x1="423.90" y1="70.80" x2="426.70" y2="70.80" stroke="#111" stroke-width="0.9"/>
<text class="k" x="420.7" y="73.10000000000001" font-size="6.5" fill="#222" text-anchor="end">60</text>
<line x1="423.90" y1="60.20" x2="426.70" y2="60.20" stroke="#111" stroke-width="0.9"/>
<text class="k" x="420.7" y="62.5" font-size="6.5" fill="#222" text-anchor="end">70</text>
<line x1="423.90" y1="49.60" x2="426.70" y2="49.60" stroke="#111" stroke-width="0.9"/>
<text class="k" x="420.7" y="51.89999999999999" font-size="6.5" fill="#222" text-anchor="end">80</text>
<line x1="423.90" y1="39.00" x2="426.70" y2="39.00" stroke="#111" stroke-width="0.9"/>
<text class="k" x="420.7" y="41.3" font-size="6.5" fill="#222" text-anchor="end">90</text>
<line x1="423.90" y1="28.40" x2="426.70" y2="28.40" stroke="#111" stroke-width="0.9"/>
<text class="k" x="420.7" y="30.700000000000006" font-size="6.5" fill="#222" text-anchor="end">100</text>
<rect x="434.10" y="83.10" width="5.80" height="51.30" fill="#a6002b"/>
<line x1="437.00" y1="78.33" x2="437.00" y2="87.87" stroke="#111" stroke-width="0.8"/>
<line x1="436.00" y1="78.33" x2="438.00" y2="78.33" stroke="#111" stroke-width="0.8"/>
<rect x="442.40" y="78.01" width="6.00" height="56.39" fill="#2e4a80"/>
<line x1="445.40" y1="75.36" x2="445.40" y2="80.66" stroke="#111" stroke-width="0.8"/>
<line x1="444.40" y1="75.36" x2="446.40" y2="75.36" stroke="#111" stroke-width="0.8"/>
<rect x="462.30" y="37.41" width="5.80" height="96.99" fill="#a6002b"/>
<line x1="465.20" y1="36.77" x2="465.20" y2="38.05" stroke="#111" stroke-width="0.8"/>
<line x1="464.20" y1="36.77" x2="466.20" y2="36.77" stroke="#111" stroke-width="0.8"/>
<rect x="470.50" y="34.23" width="5.90" height="100.17" fill="#2e4a80"/>
<line x1="473.45" y1="33.59" x2="473.45" y2="34.87" stroke="#111" stroke-width="0.8"/>
<line x1="472.45" y1="33.59" x2="474.45" y2="33.59" stroke="#111" stroke-width="0.8"/>
<rect x="490.70" y="40.80" width="6.00" height="93.60" fill="#a6002b"/>
<line x1="493.70" y1="38.26" x2="493.70" y2="43.35" stroke="#111" stroke-width="0.8"/>
<line x1="492.70" y1="38.26" x2="494.70" y2="38.26" stroke="#111" stroke-width="0.8"/>
<rect x="499.10" y="37.62" width="6.00" height="96.78" fill="#2e4a80"/>
<line x1="502.10" y1="35.29" x2="502.10" y2="39.95" stroke="#111" stroke-width="0.8"/>
<line x1="501.10" y1="35.29" x2="503.10" y2="35.29" stroke="#111" stroke-width="0.8"/>
<path d="M438.5,73.1 L438.5,69.2 L445.6,69.2 L445.6,73.1" fill="none" stroke="#111" stroke-width="0.9"/>
<text class="k2" x="442.05" y="67.3" font-size="4.8" fill="#333" text-anchor="middle">ns</text>
<path d="M464.6,30.5 L464.6,26.1 L473.8,26.1 L473.8,30.5" fill="none" stroke="#111" stroke-width="0.9"/>
<text class="k2" x="469.20000000000005" y="24.200000000000003" font-size="4.8" fill="#333" text-anchor="middle">ns</text>
<path d="M493.4,31.3 L493.4,27.4 L501.7,27.4 L501.7,31.3" fill="none" stroke="#111" stroke-width="0.9"/>
<text class="k2" x="497.54999999999995" y="25.5" font-size="4.8" fill="#333" text-anchor="middle">ns</text>
<text class="k" x="440.3" y="143.9" font-size="6.6" fill="#222" text-anchor="middle" textLength="22.9" lengthAdjust="spacingAndGlyphs">A1ATD1</text>
<text class="k" x="469.1" y="143.9" font-size="6.6" fill="#222" text-anchor="middle" textLength="19.2" lengthAdjust="spacingAndGlyphs">QOLG</text>
<text class="k" x="497.7" y="143.9" font-size="6.6" fill="#222" text-anchor="middle" textLength="16.5" lengthAdjust="spacingAndGlyphs">FFDK</text>
<text class="k" transform="translate(404,81.0) rotate(-90)" font-size="6.3" text-anchor="middle" fill="#222" textLength="78.5" lengthAdjust="spacingAndGlyphs">%CD41/42 mature MK day20</text>
<rect x="438.30" y="149.80" width="3.30" height="3.20" fill="#a6002b"/>
<text class="k2" x="444" y="153.3" font-size="5.2" fill="#3a3a3a" textLength="16.8" lengthAdjust="spacingAndGlyphs">clumps</text>
<rect x="470.30" y="149.80" width="3.30" height="3.20" fill="#2e4a80"/>
<text class="k2" x="476" y="153.3" font-size="5.2" fill="#3a3a3a" textLength="25.8" lengthAdjust="spacingAndGlyphs">single cells</text>
<text x="7.1" y="180.2" font-size="12" fill="#000" font-weight="bold">C</text>
<line x1="54.40" y1="189.50" x2="54.40" y2="320.90" stroke="#111" stroke-width="1"/>
<line x1="54.00" y1="320.40" x2="215.90" y2="320.40" stroke="#111" stroke-width="1.1"/>
<line x1="51.60" y1="320.40" x2="54.40" y2="320.40" stroke="#111" stroke-width="0.9"/>
<text class="k2" x="48.4" y="322.75" font-size="6.5" fill="#222" text-anchor="end" textLength="27.9" lengthAdjust="spacingAndGlyphs">1.00E+00</text>
<line x1="51.60" y1="302.10" x2="54.40" y2="302.10" stroke="#111" stroke-width="0.9"/>
<text class="k2" x="48.4" y="304.45" font-size="6.5" fill="#222" text-anchor="end" textLength="27.9" lengthAdjust="spacingAndGlyphs">1.00E+01</text>
<line x1="51.60" y1="283.80" x2="54.40" y2="283.80" stroke="#111" stroke-width="0.9"/>
<text class="k2" x="48.4" y="286.15" font-size="6.5" fill="#222" text-anchor="end" textLength="27.9" lengthAdjust="spacingAndGlyphs">1.00E+02</text>
<line x1="51.60" y1="265.50" x2="54.40" y2="265.50" stroke="#111" stroke-width="0.9"/>
<text class="k2" x="48.4" y="267.85" font-size="6.5" fill="#222" text-anchor="end" textLength="27.9" lengthAdjust="spacingAndGlyphs">1.00E+03</text>
<line x1="51.60" y1="247.20" x2="54.40" y2="247.20" stroke="#111" stroke-width="0.9"/>
<text class="k2" x="48.4" y="249.55" font-size="6.5" fill="#222" text-anchor="end" textLength="27.9" lengthAdjust="spacingAndGlyphs">1.00E+04</text>
<line x1="51.60" y1="228.90" x2="54.40" y2="228.90" stroke="#111" stroke-width="0.9"/>
<text class="k2" x="48.4" y="231.25" font-size="6.5" fill="#222" text-anchor="end" textLength="27.9" lengthAdjust="spacingAndGlyphs">1.00E+05</text>
<line x1="51.60" y1="210.60" x2="54.40" y2="210.60" stroke="#111" stroke-width="0.9"/>
<text class="k2" x="48.4" y="212.95" font-size="6.5" fill="#222" text-anchor="end" textLength="27.9" lengthAdjust="spacingAndGlyphs">1.00E+06</text>
<line x1="51.60" y1="192.30" x2="54.40" y2="192.30" stroke="#111" stroke-width="0.9"/>
<text class="k2" x="48.4" y="194.65" font-size="6.5" fill="#222" text-anchor="end" textLength="27.9" lengthAdjust="spacingAndGlyphs">1.00E+07</text>
<rect x="58.70" y="198.13" width="6.20" height="122.27" fill="#de8a18"/>
<line x1="61.80" y1="196.20" x2="61.80" y2="199.20" stroke="#111" stroke-width="0.8"/>
<line x1="60.90" y1="196.20" x2="62.70" y2="196.20" stroke="#111" stroke-width="0.8"/>
<line x1="60.90" y1="199.20" x2="62.70" y2="199.20" stroke="#111" stroke-width="0.8"/>
<text class="k2" x="62" y="190.7" font-size="5.0" fill="#222" text-anchor="middle">48x</text>
<text class="k" transform="translate(63.90,327.90) rotate(-45)" font-size="6.5" text-anchor="end" fill="#222">QOLG</text>
<rect x="73.38" y="201.11" width="6.20" height="119.29" fill="#62a7de"/>
<line x1="76.48" y1="198.30" x2="76.48" y2="206.30" stroke="#111" stroke-width="0.8"/>
<line x1="75.58" y1="198.30" x2="77.38" y2="198.30" stroke="#111" stroke-width="0.8"/>
<line x1="75.58" y1="206.30" x2="77.38" y2="206.30" stroke="#111" stroke-width="0.8"/>
<text class="k2" x="76.6" y="193.2" font-size="5.0" fill="#222" text-anchor="middle">33x</text>
<text class="k" transform="translate(78.58,327.90) rotate(-45)" font-size="6.5" text-anchor="end" fill="#222">DELTA-3</text>
<rect x="88.06" y="205.50" width="6.20" height="114.90" fill="#de8a18"/>
<line x1="91.16" y1="204.50" x2="91.16" y2="207.00" stroke="#111" stroke-width="0.8"/>
<line x1="90.26" y1="204.50" x2="92.06" y2="204.50" stroke="#111" stroke-width="0.8"/>
<line x1="90.26" y1="207.00" x2="92.06" y2="207.00" stroke="#111" stroke-width="0.8"/>
<text class="k2" x="91.2" y="197.8" font-size="5.0" fill="#222" text-anchor="middle">19x</text>
<text class="k" transform="translate(93.26,327.90) rotate(-45)" font-size="6.5" text-anchor="end" fill="#222">FFDK</text>
<rect x="102.74" y="210.60" width="6.20" height="109.80" fill="#62a7de"/>
<line x1="105.84" y1="209.30" x2="105.84" y2="212.50" stroke="#111" stroke-width="0.8"/>
<line x1="104.94" y1="209.30" x2="106.74" y2="209.30" stroke="#111" stroke-width="0.8"/>
<line x1="104.94" y1="212.50" x2="106.74" y2="212.50" stroke="#111" stroke-width="0.8"/>
<text class="k2" x="106.1" y="204.4" font-size="5.0" fill="#222" text-anchor="middle">10x</text>
<text class="k" transform="translate(107.94,327.90) rotate(-45)" font-size="6.5" text-anchor="end" fill="#222">LIPSC-GR1.1</text>
<rect x="117.42" y="211.44" width="6.20" height="108.96" fill="#8a7dbd"/>
<text class="k2" x="120.3" y="206.4" font-size="5.0" fill="#222" text-anchor="middle">9x</text>
<text class="k" transform="translate(122.62,327.90) rotate(-45)" font-size="6.5" text-anchor="end" fill="#222">Mshef 10</text>
<rect x="132.10" y="220.17" width="6.20" height="100.23" fill="#62a7de"/>
<line x1="135.20" y1="218.00" x2="135.20" y2="222.90" stroke="#111" stroke-width="0.8"/>
<line x1="134.30" y1="218.00" x2="136.10" y2="218.00" stroke="#111" stroke-width="0.8"/>
<line x1="134.30" y1="222.90" x2="136.10" y2="222.90" stroke="#111" stroke-width="0.8"/>
<text class="k2" x="135.2" y="213.8" font-size="5.0" fill="#222" text-anchor="middle">3x</text>
<text class="k" transform="translate(137.30,327.90) rotate(-45)" font-size="6.5" text-anchor="end" fill="#222">DELTA-2</text>
<rect x="146.78" y="227.45" width="6.20" height="92.95" fill="#8a7dbd"/>
<text class="k2" x="150" y="222.7" font-size="5.0" fill="#222" text-anchor="middle">1.2x</text>
<text class="k" transform="translate(151.98,327.90) rotate(-45)" font-size="6.5" text-anchor="end" fill="#222">KCL033</text>
<rect x="161.46" y="236.18" width="6.20" height="84.22" fill="#8a7dbd"/>
<line x1="164.56" y1="230.80" x2="164.56" y2="247.70" stroke="#111" stroke-width="0.8"/>
<line x1="163.66" y1="230.80" x2="165.46" y2="230.80" stroke="#111" stroke-width="0.8"/>
<line x1="163.66" y1="247.70" x2="165.46" y2="247.70" stroke="#111" stroke-width="0.8"/>
<text class="k2" x="171.7" y="234" font-size="5.0" fill="#222" text-anchor="middle">0.4x</text>
<text class="k" transform="translate(166.66,327.90) rotate(-45)" font-size="6.5" text-anchor="end" fill="#222">KCL032</text>
<rect x="176.14" y="236.18" width="6.20" height="84.22" fill="#8a7dbd"/>
<text class="k2" x="184" y="234" font-size="5.0" fill="#222" text-anchor="middle">0.4x</text>
<text class="k" transform="translate(181.34,327.90) rotate(-45)" font-size="6.5" text-anchor="end" fill="#222">KCL038</text>
<rect x="190.82" y="238.47" width="6.20" height="81.93" fill="#62a7de"/>
<text class="k2" x="196.4" y="237.5" font-size="5.0" fill="#222" text-anchor="middle">0.3x</text>
<text class="k" transform="translate(196.02,327.90) rotate(-45)" font-size="6.5" text-anchor="end" fill="#222">RCIB-10</text>
<rect x="205.50" y="256.77" width="6.20" height="63.63" fill="#8a7dbd"/>
<line x1="208.60" y1="253.80" x2="208.60" y2="259.20" stroke="#111" stroke-width="0.8"/>
<line x1="207.70" y1="253.80" x2="209.50" y2="253.80" stroke="#111" stroke-width="0.8"/>
<line x1="207.70" y1="259.20" x2="209.50" y2="259.20" stroke="#111" stroke-width="0.8"/>
<text class="k2" x="212.3" y="252" font-size="5.0" fill="#222" text-anchor="middle">0.03x</text>
<text class="k" transform="translate(210.70,327.90) rotate(-45)" font-size="6.5" text-anchor="end" fill="#222">KCL037</text>
<line x1="50.8" y1="228.85" x2="222.1" y2="228.85" stroke="#1a1a1a" stroke-width="1.45" stroke-dasharray="3.1 3.31" stroke-dashoffset="3.87"/>
<text class="k" transform="translate(13.3,254.8) rotate(-90)" font-size="7" text-anchor="middle" fill="#222" textLength="101.8" lengthAdjust="spacingAndGlyphs">Viable CD41/42 MK day 20 /1.00E+05</text>
<text x="237.6" y="180.1" font-size="12" fill="#000" font-weight="bold">D</text>
<text class="k2" x="249.8" y="320.3" font-size="6.8" fill="#222" textLength="23.9" lengthAdjust="spacingAndGlyphs">DELTA-3</text>
<text class="k2" x="376.2" y="320.3" font-size="6.6" fill="#222" textLength="18.8" lengthAdjust="spacingAndGlyphs">QOLG</text>
<defs><filter id="bl" x="0" y="0" width="1" height="1"><feGaussianBlur stdDeviation="0.5"/></filter><clipPath id="c1"><rect x="250" y="189.1" width="125.9" height="122"/></clipPath><clipPath id="c2"><rect x="378" y="189.1" width="126.3" height="122"/></clipPath></defs>
<g clip-path="url(#c1)"><g filter="url(#bl)">
<rect x="250" y="189.1" width="125.9" height="122" fill="#7e79c2"/>
<path d="M249.0,198.0 C249.9,194.4 253.4,198.5 254.5,200.5 C255.6,202.5 255.5,206.9 255.5,210.0 C255.5,213.1 255.6,217.0 254.5,219.0 C253.4,221.0 249.9,225.5 249.0,222.0 C248.1,218.5 248.1,201.6 249.0,198.0 Z" fill="#e3e2ef"/>
<path d="M249.0,235.0 C249.7,227.8 251.8,237.0 253.0,239.0 C254.2,241.0 254.8,244.5 256.0,247.0 C257.2,249.5 258.5,251.9 260.0,254.0 C261.5,256.1 263.5,257.8 265.0,259.5 C266.5,261.2 268.7,262.6 269.0,264.5 C269.3,266.4 268.0,268.4 267.0,271.0 C266.0,273.6 266.0,278.2 263.0,280.0 C260.0,281.8 251.3,289.5 249.0,282.0 C246.7,274.5 248.3,242.2 249.0,235.0 Z" fill="#e3e2ef"/>
<path d="M334.0,206.0 C335.8,205.9 336.8,206.0 337.5,208.0 C338.2,210.0 338.6,215.0 338.5,218.0 C338.4,221.0 336.7,223.3 337.0,226.0 C337.3,228.7 339.8,230.8 340.5,234.0 C341.2,237.2 341.5,242.0 341.5,245.0 C341.5,248.0 341.8,250.3 340.5,252.0 C339.2,253.7 336.4,254.6 334.0,255.0 C331.6,255.4 327.8,256.2 326.0,254.5 C324.2,252.8 324.2,248.1 323.5,245.0 C322.8,241.9 322.6,238.7 322.0,236.0 C321.4,233.3 320.4,231.5 320.0,229.0 C319.6,226.5 319.1,223.7 319.5,221.0 C319.9,218.3 321.2,215.1 322.5,213.0 C323.8,210.9 325.1,209.7 327.0,208.5 C328.9,207.3 332.2,206.1 334.0,206.0 Z" fill="#e3e2ef"/>
<path d="M341.0,272.0 C342.8,269.2 348.7,271.2 352.0,270.0 C355.3,268.8 358.3,266.3 361.0,265.0 C363.7,263.7 365.3,262.7 368.0,262.0 C370.7,261.3 375.5,252.7 377.0,261.0 C378.5,269.3 381.5,303.5 377.0,312.0 C372.5,320.5 355.3,313.8 350.0,312.0 C344.7,310.2 346.5,305.2 345.0,301.0 C343.5,296.8 341.7,291.8 341.0,287.0 C340.3,282.2 339.2,274.8 341.0,272.0 Z" fill="#e3e2ef"/>
<path d="M369.0,229.0 C370.0,228.0 375.7,227.2 377.0,228.0 C378.3,228.8 378.0,233.0 377.0,234.0 C376.0,235.0 372.3,234.8 371.0,234.0 C369.7,233.2 368.0,230.0 369.0,229.0 Z" fill="#e3e2ef"/>
<ellipse cx="357.0" cy="205.0" rx="12.0" ry="14.0" fill="#918dca"/>
<ellipse cx="282.5" cy="236.3" rx="30.8" ry="29.6" fill="#c2c0e0"/>
<ellipse cx="282.5" cy="236.0" rx="30.0" ry="28.8" fill="#726cb6"/>
<ellipse cx="260.7" cy="207.6" rx="7.5" ry="7.5" fill="#807bc3"/>
<ellipse cx="283.2" cy="202.0" rx="7.0" ry="7.0" fill="#837ec5"/>
<ellipse cx="273.6" cy="191.8" rx="6.0" ry="6.0" fill="#807bc3"/>
<ellipse cx="254.0" cy="190.0" rx="6.0" ry="6.0" fill="#7c77c1"/>
<ellipse cx="309.0" cy="193.5" rx="9.7" ry="9.7" fill="#d0cee8"/>
<ellipse cx="309.0" cy="193.5" rx="9.0" ry="9.0" fill="#827dc4"/>
<ellipse cx="296.5" cy="211.0" rx="8.0" ry="8.0" fill="#7b76c0"/>
<ellipse cx="318.5" cy="206.0" rx="8.0" ry="8.0" fill="#d0cee8"/>
<ellipse cx="318.5" cy="206.0" rx="7.3" ry="7.3" fill="#8580c5"/>
<ellipse cx="313.4" cy="218.8" rx="10.3" ry="10.3" fill="#d0cee8"/>
<ellipse cx="313.4" cy="218.8" rx="9.6" ry="9.6" fill="#8580c5"/>
<ellipse cx="345.3" cy="211.5" rx="9.7" ry="9.7" fill="#d0cee8"/>
<ellipse cx="345.3" cy="211.5" rx="9.0" ry="9.0" fill="#807bc3"/>
<ellipse cx="341.9" cy="226.2" rx="8.7" ry="8.7" fill="#d0cee8"/>
<ellipse cx="341.9" cy="226.2" rx="8.0" ry="8.0" fill="#7e79c2"/>
<ellipse cx="371.2" cy="225.0" rx="8.2" ry="8.2" fill="#d0cee8"/>
<ellipse cx="371.2" cy="225.0" rx="7.5" ry="7.5" fill="#807bc3"/>
<ellipse cx="270.3" cy="269.4" rx="6.0" ry="6.0" fill="#7e79c2"/>
<ellipse cx="286.0" cy="268.9" rx="6.0" ry="6.0" fill="#7e79c2"/>
<ellipse cx="318.5" cy="231.7" rx="6.0" ry="6.0" fill="#807bc3"/>
<ellipse cx="317.9" cy="249.7" rx="8.2" ry="8.2" fill="#d0cee8"/>
<ellipse cx="317.9" cy="249.7" rx="7.5" ry="7.5" fill="#8884c7"/>
<ellipse cx="311.1" cy="266.0" rx="8.7" ry="8.7" fill="#d0cee8"/>
<ellipse cx="311.1" cy="266.0" rx="8.0" ry="8.0" fill="#8480c4"/>
<ellipse cx="298.8" cy="267.2" rx="6.0" ry="6.0" fill="#7e79c2"/>
<ellipse cx="331.4" cy="260.4" rx="7.2" ry="7.2" fill="#d0cee8"/>
<ellipse cx="331.4" cy="260.4" rx="6.5" ry="6.5" fill="#807bc3"/>
<ellipse cx="353.1" cy="240.1" rx="9.1" ry="9.1" fill="#d0cee8"/>
<ellipse cx="353.1" cy="240.1" rx="8.4" ry="8.4" fill="#8c88c8"/>
<ellipse cx="368.9" cy="238.4" rx="6.9" ry="6.9" fill="#d0cee8"/>
<ellipse cx="368.9" cy="238.4" rx="6.2" ry="6.2" fill="#8884c7"/>
<ellipse cx="362.2" cy="255.9" rx="10.7" ry="10.7" fill="#d0cee8"/>
<ellipse cx="362.2" cy="255.9" rx="10.0" ry="10.0" fill="#8480c4"/>
<ellipse cx="344.1" cy="252.5" rx="7.0" ry="7.0" fill="#7e79c2"/>
<ellipse cx="340.8" cy="231.7" rx="6.0" ry="6.0" fill="#7e79c2"/>
<ellipse cx="256.0" cy="305.0" rx="9.0" ry="9.0" fill="#7c77c2"/>
<ellipse cx="259.0" cy="290.0" rx="7.5" ry="7.5" fill="#d0cee8"/>
<ellipse cx="259.0" cy="290.0" rx="6.8" ry="6.8" fill="#8682c6"/>
<ellipse cx="273.6" cy="291.3" rx="8.0" ry="8.0" fill="#d0cee8"/>
<ellipse cx="273.6" cy="291.3" rx="7.3" ry="7.3" fill="#8480c4"/>
<ellipse cx="275.9" cy="277.2" rx="7.2" ry="7.2" fill="#d0cee8"/>
<ellipse cx="275.9" cy="277.2" rx="6.5" ry="6.5" fill="#8a86c8"/>
<ellipse cx="283.8" cy="282.8" rx="6.0" ry="6.0" fill="#807bc3"/>
<ellipse cx="308.0" cy="290.0" rx="8.0" ry="8.0" fill="#8c88c8"/>
<ellipse cx="294.3" cy="284.0" rx="7.0" ry="7.0" fill="#7e79c2"/>
<ellipse cx="301.0" cy="294.6" rx="6.0" ry="6.0" fill="#7e79c2"/>
<ellipse cx="320.7" cy="291.3" rx="8.7" ry="8.7" fill="#d0cee8"/>
<ellipse cx="320.7" cy="291.3" rx="8.0" ry="8.0" fill="#8480c4"/>
<ellipse cx="324.7" cy="303.7" rx="7.7" ry="7.7" fill="#d0cee8"/>
<ellipse cx="324.7" cy="303.7" rx="7.0" ry="7.0" fill="#8480c4"/>
<ellipse cx="335.1" cy="274.4" rx="5.6" ry="5.6" fill="#7e79c2"/>
<ellipse cx="338.0" cy="290.7" rx="6.9" ry="6.9" fill="#d0cee8"/>
<ellipse cx="338.0" cy="290.7" rx="6.2" ry="6.2" fill="#8480c4"/>
<ellipse cx="350.9" cy="290.7" rx="7.5" ry="7.5" fill="#d0cee8"/>
<ellipse cx="350.9" cy="290.7" rx="6.8" ry="6.8" fill="#8682c6"/>
<ellipse cx="366.7" cy="287.9" rx="8.4" ry="8.4" fill="#9490cc"/>
<ellipse cx="344.1" cy="302.5" rx="6.0" ry="6.0" fill="#6e68b6"/>
<ellipse cx="337.0" cy="306.0" rx="6.0" ry="6.0" fill="#7470ba"/>
<ellipse cx="254.0" cy="190.0" rx="4.5" ry="2.5" fill="#4c42a0"/>
<ellipse cx="273.6" cy="191.8" rx="3.4" ry="2.8" fill="#4c42a0"/>
<ellipse cx="290.0" cy="194.0" rx="3.0" ry="3.0" fill="#4c42a0"/>
<ellipse cx="283.2" cy="202.0" rx="4.5" ry="4.0" fill="#4c42a0"/>
<ellipse cx="260.7" cy="207.6" rx="4.5" ry="4.5" fill="#4c42a0"/>
<ellipse cx="275.3" cy="215.5" rx="5.0" ry="4.0" fill="#544aa6"/>
<ellipse cx="287.2" cy="216.0" rx="4.5" ry="4.5" fill="#544aa6"/>
<ellipse cx="270.3" cy="219.4" rx="4.0" ry="4.0" fill="#544aa6"/>
<ellipse cx="257.9" cy="224.0" rx="4.5" ry="4.5" fill="#544aa6"/>
<ellipse cx="276.0" cy="225.0" rx="4.0" ry="4.0" fill="#544aa6"/>
<ellipse cx="287.0" cy="226.0" rx="4.0" ry="4.0" fill="#544aa6"/>
<ellipse cx="305.5" cy="192.4" rx="4.5" ry="3.4" fill="#4c42a0"/>
<ellipse cx="322.4" cy="190.7" rx="3.0" ry="3.0" fill="#4c42a0"/>
<ellipse cx="295.4" cy="194.6" rx="4.0" ry="4.0" fill="#4c42a0"/>
<ellipse cx="315.6" cy="205.3" rx="4.0" ry="4.5" fill="#4c42a0"/>
<ellipse cx="296.5" cy="211.0" rx="5.6" ry="5.0" fill="#544aa6"/>
<ellipse cx="314.5" cy="217.7" rx="5.0" ry="5.0" fill="#4c42a0"/>
<ellipse cx="332.5" cy="200.3" rx="3.5" ry="3.5" fill="#4c42a0"/>
<ellipse cx="317.3" cy="228.4" rx="3.5" ry="3.5" fill="#4c42a0"/>
<ellipse cx="345.3" cy="211.5" rx="6.2" ry="6.2" fill="#4c42a0"/>
<ellipse cx="341.9" cy="226.2" rx="6.5" ry="4.5" fill="#4c42a0"/>
<ellipse cx="371.2" cy="225.0" rx="5.0" ry="5.0" fill="#4c42a0"/>
<ellipse cx="374.5" cy="203.6" rx="3.0" ry="3.0" fill="#4c42a0"/>
<ellipse cx="367.2" cy="208.0" rx="1.5" ry="1.5" fill="#4c42a0"/>
<ellipse cx="264.6" cy="241.3" rx="5.6" ry="5.0" fill="#544aa6"/>
<ellipse cx="270.3" cy="234.5" rx="4.5" ry="4.0" fill="#544aa6"/>
<ellipse cx="259.0" cy="236.8" rx="3.5" ry="3.5" fill="#544aa6"/>
<ellipse cx="273.0" cy="255.3" rx="6.8" ry="6.8" fill="#544aa6"/>
<ellipse cx="284.9" cy="257.0" rx="4.5" ry="5.0" fill="#544aa6"/>
<ellipse cx="261.3" cy="231.0" rx="3.5" ry="3.5" fill="#544aa6"/>
<ellipse cx="318.5" cy="231.7" rx="4.5" ry="3.0" fill="#4c42a0"/>
<ellipse cx="317.9" cy="249.7" rx="5.0" ry="3.4" fill="#4c42a0"/>
<ellipse cx="295.4" cy="255.3" rx="5.0" ry="5.6" fill="#544aa6"/>
<ellipse cx="311.1" cy="266.0" rx="6.2" ry="5.0" fill="#4c42a0"/>
<ellipse cx="298.8" cy="267.2" rx="4.5" ry="4.5" fill="#4c42a0"/>
<ellipse cx="331.4" cy="260.4" rx="4.0" ry="4.0" fill="#4c42a0"/>
<ellipse cx="357.6" cy="238.4" rx="5.0" ry="6.2" fill="#4c42a0"/>
<ellipse cx="370.0" cy="240.1" rx="4.0" ry="4.0" fill="#4c42a0"/>
<ellipse cx="358.8" cy="258.7" rx="6.8" ry="5.0" fill="#4c42a0"/>
<ellipse cx="344.1" cy="252.5" rx="5.6" ry="5.6" fill="#4c42a0"/>
<ellipse cx="340.8" cy="231.7" rx="6.0" ry="3.0" fill="#4c42a0"/>
<ellipse cx="335.0" cy="259.3" rx="4.0" ry="4.0" fill="#4c42a0"/>
<ellipse cx="346.4" cy="263.8" rx="5.0" ry="5.0" fill="#4c42a0"/>
<ellipse cx="338.5" cy="268.3" rx="4.0" ry="4.0" fill="#4c42a0"/>
<ellipse cx="340.2" cy="240.7" rx="2.0" ry="2.0" fill="#4c42a0"/>
<ellipse cx="371.2" cy="266.6" rx="2.0" ry="2.0" fill="#4c42a0"/>
<ellipse cx="261.3" cy="290.7" rx="3.4" ry="4.5" fill="#4c42a0"/>
<ellipse cx="272.5" cy="294.0" rx="5.0" ry="4.0" fill="#4c42a0"/>
<ellipse cx="275.9" cy="277.2" rx="4.5" ry="4.0" fill="#4c42a0"/>
<ellipse cx="283.8" cy="273.3" rx="3.0" ry="3.0" fill="#4c42a0"/>
<ellipse cx="283.8" cy="282.8" rx="4.5" ry="4.5" fill="#4c42a0"/>
<ellipse cx="289.4" cy="273.3" rx="3.0" ry="3.0" fill="#4c42a0"/>
<ellipse cx="274.2" cy="305.3" rx="4.0" ry="4.5" fill="#4c42a0"/>
<ellipse cx="291.0" cy="285.6" rx="3.0" ry="3.0" fill="#4c42a0"/>
<ellipse cx="294.3" cy="284.0" rx="5.0" ry="4.5" fill="#4c42a0"/>
<ellipse cx="301.0" cy="294.6" rx="3.4" ry="5.0" fill="#4c42a0"/>
<ellipse cx="299.9" cy="301.4" rx="3.5" ry="3.5" fill="#4c42a0"/>
<ellipse cx="320.7" cy="291.3" rx="4.5" ry="5.0" fill="#4c42a0"/>
<ellipse cx="324.7" cy="303.7" rx="5.0" ry="4.0" fill="#4c42a0"/>
<ellipse cx="332.5" cy="289.0" rx="3.5" ry="3.5" fill="#4c42a0"/>
<ellipse cx="331.4" cy="274.4" rx="4.0" ry="4.0" fill="#4c42a0"/>
<ellipse cx="319.0" cy="275.5" rx="2.0" ry="2.0" fill="#4c42a0"/>
<ellipse cx="308.9" cy="281.1" rx="3.5" ry="3.5" fill="#4c42a0"/>
<ellipse cx="307.8" cy="304.8" rx="4.0" ry="4.0" fill="#4c42a0"/>
<ellipse cx="301.0" cy="309.3" rx="3.5" ry="3.5" fill="#4c42a0"/>
<ellipse cx="335.1" cy="274.4" rx="4.0" ry="4.5" fill="#4c42a0"/>
<ellipse cx="349.8" cy="272.7" rx="2.0" ry="2.0" fill="#4c42a0"/>
<ellipse cx="336.3" cy="289.6" rx="4.0" ry="4.0" fill="#4c42a0"/>
<ellipse cx="352.6" cy="290.1" rx="4.5" ry="4.5" fill="#4c42a0"/>
<ellipse cx="366.1" cy="294.6" rx="5.6" ry="4.5" fill="#4c42a0"/>
<ellipse cx="365.5" cy="301.4" rx="2.5" ry="2.5" fill="#4c42a0"/>
<ellipse cx="344.1" cy="302.5" rx="6.8" ry="5.6" fill="#4c42a0"/>
<ellipse cx="337.0" cy="306.0" rx="4.0" ry="4.0" fill="#4c42a0"/>
</g></g>
<g clip-path="url(#c2)"><g filter="url(#bl)">
<rect x="378" y="189.1" width="126.3" height="122" fill="#7e79c0"/>
<ellipse cx="389.0" cy="209.0" rx="12.0" ry="17.0" fill="#9995cb"/>
<ellipse cx="458.0" cy="228.5" rx="22.5" ry="24.0" fill="#bdbadb"/>
<ellipse cx="458.0" cy="228.0" rx="21.8" ry="23.2" fill="#928eca"/>
<ellipse cx="444.0" cy="262.0" rx="4.5" ry="9.0" fill="#a09cd0"/>
<ellipse cx="495.5" cy="249.0" rx="5.0" ry="6.0" fill="#b4b2d8"/>
<ellipse cx="472.0" cy="280.5" rx="3.5" ry="4.0" fill="#aeaad4"/>
<ellipse cx="497.0" cy="275.5" rx="7.0" ry="5.0" fill="#948ec4"/>
<ellipse cx="399.6" cy="201.6" rx="6.6" ry="8.9" fill="#7a74be"/>
<ellipse cx="399.4" cy="191.8" rx="5.1" ry="5.1" fill="#6a64b6"/>
<ellipse cx="403.3" cy="212.9" rx="5.3" ry="5.3" fill="#726cba"/>
<ellipse cx="410.8" cy="212.7" rx="6.2" ry="6.9" fill="#726cba"/>
<ellipse cx="406.9" cy="216.5" rx="6.0" ry="6.0" fill="#6a64b6"/>
<ellipse cx="417.9" cy="218.7" rx="6.6" ry="6.6" fill="#7a74be"/>
<ellipse cx="392.8" cy="226.4" rx="5.6" ry="5.6" fill="#7a74be"/>
<ellipse cx="386.2" cy="227.3" rx="4.5" ry="4.5" fill="#726cba"/>
<ellipse cx="399.5" cy="228.2" rx="4.8" ry="4.8" fill="#7a74be"/>
<ellipse cx="414.2" cy="227.3" rx="5.3" ry="5.3" fill="#726cba"/>
<ellipse cx="379.9" cy="192.6" rx="4.6" ry="4.6" fill="#6a64b6"/>
<ellipse cx="429.3" cy="206.0" rx="8.0" ry="7.3" fill="#6a64b6"/>
<ellipse cx="440.4" cy="202.6" rx="7.2" ry="5.9" fill="#7a74be"/>
<ellipse cx="450.9" cy="195.1" rx="6.0" ry="6.7" fill="#7a74be"/>
<ellipse cx="421.6" cy="201.4" rx="4.7" ry="4.7" fill="#7a74be"/>
<ellipse cx="432.3" cy="216.6" rx="6.0" ry="6.0" fill="#726cba"/>
<ellipse cx="438.3" cy="216.6" rx="5.3" ry="5.3" fill="#726cba"/>
<ellipse cx="425.7" cy="222.0" rx="6.3" ry="6.3" fill="#726cba"/>
<ellipse cx="428.8" cy="228.4" rx="5.7" ry="5.7" fill="#726cba"/>
<ellipse cx="436.5" cy="226.0" rx="4.6" ry="4.6" fill="#7a74be"/>
<ellipse cx="475.6" cy="195.6" rx="11.7" ry="7.5" fill="#726cba"/>
<ellipse cx="498.5" cy="196.5" rx="9.7" ry="9.7" fill="#7a74be"/>
<ellipse cx="499.4" cy="207.2" rx="7.6" ry="7.6" fill="#6a64b6"/>
<ellipse cx="479.9" cy="211.0" rx="8.3" ry="7.5" fill="#6a64b6"/>
<ellipse cx="490.7" cy="216.0" rx="7.1" ry="7.1" fill="#7a74be"/>
<ellipse cx="495.2" cy="222.5" rx="7.2" ry="7.2" fill="#6a64b6"/>
<ellipse cx="484.9" cy="226.5" rx="5.9" ry="5.9" fill="#7a74be"/>
<ellipse cx="501.1" cy="217.6" rx="5.2" ry="5.2" fill="#6a64b6"/>
<ellipse cx="388.0" cy="239.7" rx="7.5" ry="7.5" fill="#726cba"/>
<ellipse cx="387.2" cy="248.7" rx="7.4" ry="6.7" fill="#726cba"/>
<ellipse cx="411.8" cy="244.3" rx="6.5" ry="8.0" fill="#6a64b6"/>
<ellipse cx="399.7" cy="256.4" rx="5.6" ry="5.6" fill="#726cba"/>
<ellipse cx="389.1" cy="267.3" rx="5.9" ry="5.9" fill="#7a74be"/>
<ellipse cx="404.9" cy="267.3" rx="8.7" ry="6.4" fill="#7a74be"/>
<ellipse cx="416.3" cy="259.0" rx="6.8" ry="10.0" fill="#6a64b6"/>
<ellipse cx="387.2" cy="232.8" rx="5.2" ry="5.2" fill="#726cba"/>
<ellipse cx="394.8" cy="230.7" rx="4.7" ry="4.7" fill="#6a64b6"/>
<ellipse cx="430.3" cy="232.0" rx="6.9" ry="4.8" fill="#726cba"/>
<ellipse cx="437.5" cy="236.3" rx="5.9" ry="7.3" fill="#726cba"/>
<ellipse cx="427.1" cy="247.0" rx="7.9" ry="7.2" fill="#726cba"/>
<ellipse cx="446.6" cy="248.6" rx="7.9" ry="7.2" fill="#7a74be"/>
<ellipse cx="439.6" cy="253.7" rx="6.9" ry="8.4" fill="#726cba"/>
<ellipse cx="454.8" cy="259.6" rx="7.3" ry="7.3" fill="#6a64b6"/>
<ellipse cx="421.1" cy="240.0" rx="5.1" ry="5.1" fill="#6a64b6"/>
<ellipse cx="421.3" cy="259.2" rx="6.6" ry="6.6" fill="#7a74be"/>
<ellipse cx="459.9" cy="251.5" rx="6.7" ry="6.7" fill="#6a64b6"/>
<ellipse cx="484.0" cy="232.4" rx="6.7" ry="5.2" fill="#6a64b6"/>
<ellipse cx="497.9" cy="239.4" rx="5.8" ry="7.2" fill="#7a74be"/>
<ellipse cx="496.2" cy="248.0" rx="7.4" ry="5.7" fill="#6a64b6"/>
<ellipse cx="471.1" cy="250.8" rx="7.2" ry="7.2" fill="#6a64b6"/>
<ellipse cx="481.1" cy="244.3" rx="6.1" ry="6.1" fill="#6a64b6"/>
<ellipse cx="483.5" cy="251.5" rx="6.3" ry="6.3" fill="#7a74be"/>
<ellipse cx="491.1" cy="259.6" rx="7.5" ry="6.8" fill="#7a74be"/>
<ellipse cx="462.5" cy="250.3" rx="5.9" ry="5.9" fill="#7a74be"/>
<ellipse cx="465.9" cy="265.1" rx="7.0" ry="7.0" fill="#6a64b6"/>
<ellipse cx="484.5" cy="264.8" rx="6.2" ry="6.2" fill="#7a74be"/>
<ellipse cx="494.1" cy="267.4" rx="4.6" ry="4.6" fill="#726cba"/>
<ellipse cx="382.7" cy="284.4" rx="6.7" ry="6.7" fill="#6a64b6"/>
<ellipse cx="388.5" cy="288.4" rx="7.6" ry="7.6" fill="#7a74be"/>
<ellipse cx="397.9" cy="290.2" rx="7.0" ry="7.0" fill="#726cba"/>
<ellipse cx="401.2" cy="281.5" rx="6.5" ry="7.1" fill="#6a64b6"/>
<ellipse cx="414.3" cy="283.6" rx="7.5" ry="7.5" fill="#6a64b6"/>
<ellipse cx="398.1" cy="298.8" rx="7.2" ry="7.2" fill="#6a64b6"/>
<ellipse cx="407.3" cy="293.5" rx="5.4" ry="5.4" fill="#7a74be"/>
<ellipse cx="415.6" cy="294.1" rx="5.0" ry="5.0" fill="#726cba"/>
<ellipse cx="414.8" cy="301.9" rx="4.0" ry="4.0" fill="#6a64b6"/>
<ellipse cx="381.5" cy="304.3" rx="8.1" ry="9.7" fill="#7a74be"/>
<ellipse cx="388.0" cy="299.5" rx="7.1" ry="7.1" fill="#726cba"/>
<ellipse cx="410.3" cy="306.9" rx="7.6" ry="6.8" fill="#6a64b6"/>
<ellipse cx="392.8" cy="293.7" rx="6.1" ry="6.1" fill="#7a74be"/>
<ellipse cx="444.2" cy="279.4" rx="9.6" ry="7.2" fill="#726cba"/>
<ellipse cx="430.1" cy="286.5" rx="5.8" ry="8.2" fill="#6a64b6"/>
<ellipse cx="435.7" cy="288.4" rx="6.1" ry="7.4" fill="#7a74be"/>
<ellipse cx="442.5" cy="291.5" rx="6.9" ry="6.2" fill="#6a64b6"/>
<ellipse cx="453.7" cy="284.2" rx="7.3" ry="7.3" fill="#726cba"/>
<ellipse cx="455.7" cy="277.6" rx="8.3" ry="8.3" fill="#6a64b6"/>
<ellipse cx="430.3" cy="306.4" rx="9.2" ry="7.5" fill="#6a64b6"/>
<ellipse cx="463.9" cy="284.9" rx="4.9" ry="7.8" fill="#7a74be"/>
<ellipse cx="465.9" cy="293.6" rx="7.4" ry="6.7" fill="#726cba"/>
<ellipse cx="475.1" cy="296.7" rx="9.2" ry="8.3" fill="#726cba"/>
<ellipse cx="477.9" cy="305.2" rx="6.2" ry="6.2" fill="#7a74be"/>
<ellipse cx="481.8" cy="285.2" rx="7.8" ry="7.8" fill="#7a74be"/>
<ellipse cx="479.7" cy="277.9" rx="6.7" ry="6.7" fill="#6a64b6"/>
<ellipse cx="473.8" cy="277.2" rx="6.7" ry="6.7" fill="#6a64b6"/>
<ellipse cx="487.8" cy="292.2" rx="5.9" ry="5.9" fill="#6a64b6"/>
<ellipse cx="499.8" cy="296.2" rx="6.7" ry="7.3" fill="#6a64b6"/>
<ellipse cx="464.3" cy="273.5" rx="6.3" ry="6.3" fill="#6a64b6"/>
<ellipse cx="411.8" cy="199.7" rx="8.6" ry="8.6" fill="#58529f"/>
<ellipse cx="402.8" cy="236.8" rx="7.9" ry="7.9" fill="#7670bc"/>
<ellipse cx="469.9" cy="234.5" rx="7.9" ry="7.9" fill="#5e58ae"/>
<ellipse cx="431.3" cy="275.5" rx="6.8" ry="6.8" fill="#5e58ae"/>
<ellipse cx="390.4" cy="274.4" rx="6.8" ry="5.6" fill="#6a64b6"/>
<ellipse cx="426.8" cy="299.2" rx="5.6" ry="5.6" fill="#8a86c8"/>
<ellipse cx="453.8" cy="259.3" rx="7.5" ry="7.5" fill="#c8c6e0"/>
<ellipse cx="453.8" cy="259.3" rx="6.8" ry="6.8" fill="#7c76c0"/>
<ellipse cx="498.0" cy="284.5" rx="5.6" ry="5.6" fill="#6660b2"/>
<ellipse cx="489.0" cy="299.2" rx="5.6" ry="5.6" fill="#a09cc8"/>
<ellipse cx="457.2" cy="298.0" rx="5.0" ry="5.0" fill="#7a74be"/>
<ellipse cx="407.3" cy="286.2" rx="5.0" ry="5.0" fill="#7a74be"/>
<ellipse cx="422.3" cy="284.5" rx="4.5" ry="4.5" fill="#7c76c0"/>
<ellipse cx="391.0" cy="190.8" rx="3.3" ry="3.0" fill="#dcdcc6"/>
<ellipse cx="402.8" cy="208.2" rx="2.5" ry="2.5" fill="#dcdcc6"/>
<ellipse cx="436.4" cy="192.5" rx="9.9" ry="4.8" fill="#dcdcc6"/>
<ellipse cx="467.0" cy="192.0" rx="5.3" ry="4.3" fill="#dcdcc6"/>
<ellipse cx="488.4" cy="204.5" rx="6.6" ry="4.8" fill="#dcdcc6"/>
<ellipse cx="380.3" cy="248.5" rx="3.6" ry="22.8" fill="#dcdcc6"/>
<ellipse cx="382.0" cy="276.1" rx="5.3" ry="6.5" fill="#dcdcc6"/>
<ellipse cx="394.9" cy="282.3" rx="3.7" ry="4.8" fill="#dcdcc6"/>
<ellipse cx="408.4" cy="305.0" rx="8.2" ry="8.3" fill="#dcdcc6"/>
<ellipse cx="415.9" cy="293.5" rx="4.4" ry="5.8" fill="#dcdcc6"/>
<ellipse cx="427.9" cy="280.6" rx="5.9" ry="5.4" fill="#dcdcc6"/>
<ellipse cx="442.6" cy="297.5" rx="7.0" ry="6.5" fill="#dcdcc6"/>
<ellipse cx="423.4" cy="296.4" rx="3.7" ry="4.3" fill="#dcdcc6"/>
<ellipse cx="441.4" cy="308.0" rx="5.9" ry="5.3" fill="#dcdcc6"/>
<ellipse cx="468.8" cy="306.0" rx="7.0" ry="7.3" fill="#dcdcc6"/>
<ellipse cx="493.0" cy="306.5" rx="12.3" ry="6.8" fill="#dcdcc6"/>
<ellipse cx="494.8" cy="232.9" rx="10.6" ry="4.2" fill="#dcdcc6"/>
<ellipse cx="465.4" cy="259.2" rx="3.7" ry="2.5" fill="#dcdcc6"/>
<ellipse cx="499.2" cy="266.2" rx="6.0" ry="5.0" fill="#dcdcc6"/>
<ellipse cx="427.2" cy="237.2" rx="3.0" ry="3.0" fill="#dcdcc6"/>
<ellipse cx="399.4" cy="201.4" rx="4.5" ry="6.2" fill="#463d9a"/>
<ellipse cx="398.8" cy="191.8" rx="3.0" ry="3.0" fill="#463d9a"/>
<ellipse cx="403.3" cy="212.6" rx="3.5" ry="3.5" fill="#463d9a"/>
<ellipse cx="410.7" cy="213.2" rx="4.0" ry="4.5" fill="#463d9a"/>
<ellipse cx="406.7" cy="216.6" rx="3.5" ry="3.5" fill="#463d9a"/>
<ellipse cx="418.0" cy="218.8" rx="4.0" ry="4.0" fill="#463d9a"/>
<ellipse cx="392.6" cy="226.2" rx="3.5" ry="3.5" fill="#463d9a"/>
<ellipse cx="385.9" cy="227.8" rx="3.0" ry="3.0" fill="#463d9a"/>
<ellipse cx="399.4" cy="228.4" rx="3.0" ry="3.0" fill="#463d9a"/>
<ellipse cx="414.0" cy="227.3" rx="3.5" ry="3.5" fill="#463d9a"/>
<ellipse cx="380.3" cy="192.4" rx="3.0" ry="3.0" fill="#463d9a"/>
<ellipse cx="445.9" cy="216.0" rx="6.2" ry="5.6" fill="#463d9a"/>
<ellipse cx="453.8" cy="217.2" rx="4.0" ry="4.0" fill="#463d9a"/>
<ellipse cx="429.0" cy="205.9" rx="5.0" ry="4.5" fill="#463d9a"/>
<ellipse cx="440.3" cy="202.5" rx="5.0" ry="4.0" fill="#463d9a"/>
<ellipse cx="450.4" cy="194.6" rx="4.0" ry="4.5" fill="#463d9a"/>
<ellipse cx="421.1" cy="201.4" rx="3.0" ry="3.0" fill="#463d9a"/>
<ellipse cx="432.4" cy="217.2" rx="3.5" ry="3.5" fill="#463d9a"/>
<ellipse cx="438.0" cy="216.0" rx="3.5" ry="3.5" fill="#463d9a"/>
<ellipse cx="425.6" cy="221.7" rx="4.0" ry="4.0" fill="#463d9a"/>
<ellipse cx="429.0" cy="227.8" rx="3.5" ry="3.5" fill="#463d9a"/>
<ellipse cx="436.9" cy="226.2" rx="3.0" ry="3.0" fill="#463d9a"/>
<ellipse cx="475.5" cy="195.8" rx="8.0" ry="5.0" fill="#463d9a"/>
<ellipse cx="498.0" cy="196.9" rx="6.8" ry="6.8" fill="#463d9a"/>
<ellipse cx="499.2" cy="207.0" rx="5.0" ry="5.0" fill="#463d9a"/>
<ellipse cx="480.0" cy="210.4" rx="5.0" ry="4.5" fill="#463d9a"/>
<ellipse cx="474.4" cy="218.3" rx="5.6" ry="5.6" fill="#463d9a"/>
<ellipse cx="490.2" cy="216.0" rx="4.5" ry="4.5" fill="#463d9a"/>
<ellipse cx="494.7" cy="222.8" rx="4.5" ry="4.5" fill="#463d9a"/>
<ellipse cx="484.5" cy="226.2" rx="4.0" ry="4.0" fill="#463d9a"/>
<ellipse cx="501.4" cy="217.2" rx="3.5" ry="3.5" fill="#463d9a"/>
<ellipse cx="388.1" cy="240.1" rx="5.0" ry="5.0" fill="#463d9a"/>
<ellipse cx="387.0" cy="249.1" rx="4.5" ry="4.0" fill="#463d9a"/>
<ellipse cx="411.8" cy="244.6" rx="4.0" ry="5.0" fill="#463d9a"/>
<ellipse cx="399.4" cy="257.0" rx="3.5" ry="3.5" fill="#463d9a"/>
<ellipse cx="389.3" cy="267.7" rx="3.5" ry="3.5" fill="#463d9a"/>
<ellipse cx="405.0" cy="267.2" rx="5.6" ry="4.0" fill="#463d9a"/>
<ellipse cx="416.3" cy="259.3" rx="4.5" ry="6.8" fill="#463d9a"/>
<ellipse cx="387.0" cy="232.3" rx="3.5" ry="3.5" fill="#463d9a"/>
<ellipse cx="395.0" cy="231.0" rx="3.0" ry="3.0" fill="#463d9a"/>
<ellipse cx="430.1" cy="231.7" rx="4.5" ry="3.0" fill="#463d9a"/>
<ellipse cx="438.0" cy="236.8" rx="4.0" ry="5.0" fill="#463d9a"/>
<ellipse cx="458.3" cy="239.6" rx="4.5" ry="5.0" fill="#463d9a"/>
<ellipse cx="426.8" cy="247.5" rx="5.0" ry="4.5" fill="#463d9a"/>
<ellipse cx="447.0" cy="248.6" rx="5.0" ry="4.5" fill="#463d9a"/>
<ellipse cx="439.1" cy="253.6" rx="4.5" ry="5.6" fill="#463d9a"/>
<ellipse cx="454.9" cy="259.3" rx="5.0" ry="5.0" fill="#463d9a"/>
<ellipse cx="421.0" cy="240.0" rx="3.0" ry="3.0" fill="#463d9a"/>
<ellipse cx="421.0" cy="259.8" rx="4.0" ry="4.0" fill="#463d9a"/>
<ellipse cx="460.0" cy="251.4" rx="4.0" ry="4.0" fill="#463d9a"/>
<ellipse cx="483.4" cy="232.3" rx="4.5" ry="3.4" fill="#463d9a"/>
<ellipse cx="498.0" cy="239.6" rx="4.0" ry="5.0" fill="#463d9a"/>
<ellipse cx="495.8" cy="248.0" rx="4.5" ry="3.4" fill="#463d9a"/>
<ellipse cx="471.0" cy="250.8" rx="5.0" ry="5.0" fill="#463d9a"/>
<ellipse cx="481.1" cy="244.6" rx="4.0" ry="4.0" fill="#463d9a"/>
<ellipse cx="483.4" cy="252.0" rx="4.0" ry="4.0" fill="#463d9a"/>
<ellipse cx="491.3" cy="259.8" rx="4.5" ry="4.0" fill="#463d9a"/>
<ellipse cx="463.0" cy="250.8" rx="4.0" ry="4.0" fill="#463d9a"/>
<ellipse cx="465.4" cy="264.9" rx="4.5" ry="4.5" fill="#463d9a"/>
<ellipse cx="484.5" cy="264.9" rx="4.0" ry="4.0" fill="#463d9a"/>
<ellipse cx="494.7" cy="267.2" rx="3.0" ry="3.0" fill="#463d9a"/>
<ellipse cx="382.5" cy="284.0" rx="4.5" ry="4.5" fill="#463d9a"/>
<ellipse cx="388.1" cy="288.5" rx="5.0" ry="5.0" fill="#463d9a"/>
<ellipse cx="397.7" cy="289.6" rx="4.5" ry="4.5" fill="#463d9a"/>
<ellipse cx="401.6" cy="281.7" rx="4.5" ry="5.0" fill="#463d9a"/>
<ellipse cx="414.0" cy="283.4" rx="4.5" ry="4.5" fill="#463d9a"/>
<ellipse cx="397.7" cy="298.6" rx="4.5" ry="4.5" fill="#463d9a"/>
<ellipse cx="407.3" cy="293.5" rx="3.5" ry="3.5" fill="#463d9a"/>
<ellipse cx="415.2" cy="293.5" rx="3.0" ry="3.0" fill="#463d9a"/>
<ellipse cx="415.2" cy="301.4" rx="2.5" ry="2.5" fill="#463d9a"/>
<ellipse cx="381.4" cy="304.8" rx="5.6" ry="6.8" fill="#463d9a"/>
<ellipse cx="388.1" cy="299.2" rx="4.5" ry="4.5" fill="#463d9a"/>
<ellipse cx="410.7" cy="307.0" rx="4.5" ry="4.0" fill="#463d9a"/>
<ellipse cx="392.6" cy="293.5" rx="4.0" ry="4.0" fill="#463d9a"/>
<ellipse cx="444.8" cy="279.4" rx="6.8" ry="5.0" fill="#463d9a"/>
<ellipse cx="430.1" cy="286.8" rx="3.4" ry="5.0" fill="#463d9a"/>
<ellipse cx="435.8" cy="287.9" rx="4.0" ry="5.0" fill="#463d9a"/>
<ellipse cx="442.5" cy="291.3" rx="4.5" ry="4.0" fill="#463d9a"/>
<ellipse cx="453.8" cy="284.5" rx="5.0" ry="5.0" fill="#463d9a"/>
<ellipse cx="456.0" cy="277.8" rx="5.0" ry="5.0" fill="#463d9a"/>
<ellipse cx="430.1" cy="307.0" rx="5.6" ry="4.5" fill="#463d9a"/>
<ellipse cx="464.0" cy="285.0" rx="3.0" ry="5.0" fill="#463d9a"/>
<ellipse cx="466.5" cy="293.5" rx="5.0" ry="4.5" fill="#463d9a"/>
<ellipse cx="475.5" cy="296.9" rx="5.6" ry="5.0" fill="#463d9a"/>
<ellipse cx="478.3" cy="304.8" rx="4.0" ry="4.0" fill="#463d9a"/>
<ellipse cx="482.3" cy="285.6" rx="5.0" ry="5.0" fill="#463d9a"/>
<ellipse cx="480.0" cy="277.8" rx="4.0" ry="4.0" fill="#463d9a"/>
<ellipse cx="473.3" cy="277.8" rx="4.0" ry="4.0" fill="#463d9a"/>
<ellipse cx="487.9" cy="291.8" rx="4.0" ry="4.0" fill="#463d9a"/>
<ellipse cx="500.3" cy="295.8" rx="4.5" ry="5.0" fill="#463d9a"/>
<ellipse cx="464.3" cy="273.3" rx="4.0" ry="4.0" fill="#463d9a"/>
</g></g>
<rect x="339.4" y="196" width="26.8" height="1.6" fill="#111"/>
<text x="352.6" y="202.7" font-size="5" text-anchor="middle" fill="#1a1a1a" textLength="14.5" lengthAdjust="spacingAndGlyphs">50μm</text>
<rect x="467.4" y="196" width="26.7" height="1.6" fill="#111"/>
<text x="481.8" y="203.9" font-size="5" text-anchor="middle" fill="#1a1a1a" textLength="13.7" lengthAdjust="spacingAndGlyphs">50μm</text>
<rect x="0.5" y="0.5" width="519" height="363" fill="none" stroke="#000" stroke-width="1.2"/>
</svg></div></body></html>
